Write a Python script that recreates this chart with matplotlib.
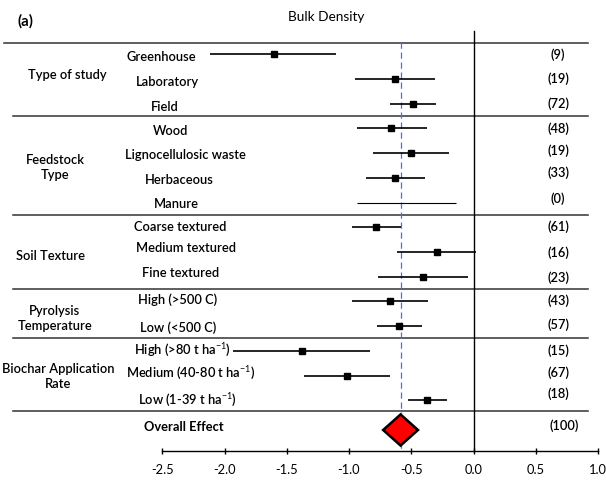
import matplotlib
matplotlib.use("Agg")
import matplotlib.pyplot as plt
import numpy as np

plt.rcParams['font.family'] = ['Lato', 'DejaVu Sans']
plt.rcParams['mathtext.fontset'] = 'custom'
plt.rcParams['mathtext.rm'] = 'Lato'
plt.rcParams['mathtext.it'] = 'Lato:italic'
plt.rcParams['mathtext.bf'] = 'Lato:bold'

# ---- data ----
labels = ["Greenhouse", "Laboratory", "Field",
          "Wood", "Lignocellulosic waste", "Herbaceous", "Manure",
          "Coarse textured", "Medium textured", "Fine textured",
          "High (>500 C)", "Low (<500 C)",
          "High (>80 t ha$^{-1}$)", "Medium (40-80 t ha$^{-1}$)", "Low (1-39 t ha$^{-1}$)"]
means = [-1.606, -0.634, -0.485,
         -0.659, -0.503, -0.627, np.nan,
         -0.782, -0.297, -0.407,
         -0.672, -0.597,
         -1.381, -1.015, -0.372]
ci_low = [-2.115, -0.956, -0.667,
          -0.937, -0.811, -0.867, -0.932,
          -0.980, -0.613, -0.769,
          -0.975, -0.777,
          -1.933, -1.363, -0.527]
ci_high = [-1.103, -0.313, -0.303,
           -0.375, -0.195, -0.386, -0.139,
           -0.586, 0.016, -0.045,
           -0.369, -0.412,
           -0.830, -0.667, -0.212]
counts = ["(9)", "(19)", "(72)", "(48)", "(19)", "(33)", "(0)",
          "(61)", "(16)", "(23)", "(43)", "(57)", "(15)", "(67)", "(18)"]
groups = ["Type of study", "Feedstock\nType", "Soil Texture",
          "Pyrolysis\nTemperature", "Biochar Application\nRate"]
group_sizes = [3, 4, 3, 2, 3]
overall_label = "Overall Effect"
overall_mean = -0.586
overall_ci = (-0.726, -0.446)
overall_count = "(100)"
xticks = [-2.5, -2.0, -1.5, -1.0, -0.5, 0.0, 0.5, 1.0]

# ---- layout (pixel positions of text in the figure) ----
label_x_px = [161.5, 167.5, 164.5, 170.5, 185, 179.5, 176,
              180, 186.5, 181, 177.5, 178.5, 182, 191, 187.5]
label_y_px = [56.7, 81.7, 106.7, 130.7, 155, 180, 204,
              226.7, 248.3, 273.3, 300, 327.3, 350, 373.3, 400]
count_y_px = [55, 79, 104, 129, 150.7, 173, 199, 226.7, 252.3, 277.7,
              301, 324.3, 351, 372.3, 394]
group_x_px = [67, 55, 51, 55, 58]
group_y_px = [75, 167.6, 256, 318.7, 376.3]

W, H = 606, 481
fig = plt.figure(figsize=(W / 100, H / 100), dpi=100)
px_left, px_right, px_bottom, px_top = 162.3, 598, 452, 20
ax = fig.add_axes([px_left / W, (H - px_bottom) / H,
                   (px_right - px_left) / W, (px_bottom - px_top) / H])
row0_px, row_step = 55.3, 24.71
def pix2row(p):
    return (p - row0_px) / row_step
def xpix(p):
    return -2.5 + (p - px_left) / ((px_right - px_left) / 3.5)
ax.set_xlim(-2.5, 1.0)
ax.set_ylim(pix2row(px_bottom), pix2row(px_top))

n = len(labels)
rows = np.arange(n)
overall_row = pix2row(431)

fs = 9.3
# error bars and markers
for i in range(n):
    lw = 0.8 if np.isnan(means[i]) else 1.2
    ax.plot([ci_low[i], ci_high[i]], [rows[i], rows[i]], color='black', lw=lw,
            solid_capstyle='butt', zorder=3)
ax.plot(means, rows, 's', color='black', ms=4.8, zorder=4)

# diamond
dh = 0.63
ax.fill([overall_ci[0], overall_mean, overall_ci[1], overall_mean],
        [overall_row, overall_row - dh, overall_row, overall_row + dh],
        facecolor='#ff0000', edgecolor='black', lw=1.8, zorder=5, joinstyle='miter')

# reference lines
ax.plot([0, 0], [pix2row(31.7), pix2row(px_bottom)], color='black', lw=1.0,
        clip_on=False, zorder=2)
ax.plot([overall_mean, overall_mean], [pix2row(42.7), pix2row(px_bottom)],
        color='#4f6bf0', lw=0.9, ls=(0, (5, 3)), clip_on=False, zorder=2)

# separators
bounds = np.cumsum([0] + group_sizes)
sep_rows = [pix2row(44)] + [b - 0.5 for b in bounds[1:-1]] + [pix2row(412)]
for j, r in enumerate(sep_rows):
    x0 = xpix(4) if j == 0 else xpix(13)
    ax.plot([x0, xpix(588)], [r, r], color='#333333', lw=1.1, clip_on=False, zorder=1)

# row labels
for i in range(n):
    ax.text(xpix(label_x_px[i]), pix2row(label_y_px[i]), labels[i], ha='center',
            va='center', fontsize=fs, fontweight='semibold', clip_on=False)
ax.text(xpix(184), pix2row(427.3), overall_label, ha='center', va='center', fontsize=fs,
        fontweight='bold', clip_on=False)

# group labels
for g, name in enumerate(groups):
    ax.text(xpix(group_x_px[g]), pix2row(group_y_px[g]), name, ha='center', va='center',
            fontsize=fs, fontweight='semibold', linespacing=1.3, clip_on=False)

# counts
for i in range(n):
    ax.text(xpix(558), pix2row(count_y_px[i]), counts[i], ha='center', va='center',
            fontsize=fs, fontweight='semibold', clip_on=False)
ax.text(xpix(564), pix2row(426), overall_count, ha='center', va='center',
        fontsize=fs, fontweight='semibold', clip_on=False)

# axes styling
for s in ['left', 'top', 'right']:
    ax.spines[s].set_visible(False)
ax.spines['bottom'].set_linewidth(1.0)
ax.set_yticks([])
ax.set_xticks(xticks)
ax.set_xticklabels([f"{t:.1f}" for t in xticks], fontsize=fs)
ax.tick_params(axis='x', direction='inout', length=5, width=1.0, pad=6)

# titles
fig.text(326 / W, 1 - 16.7 / H, "Bulk Density", ha='center', va='center', fontsize=fs + 0.5)
fig.text(17 / W, 1 - 21 / H, "(a)", ha='left', va='center', fontsize=fs + 1.5,
         fontweight='bold')

fig.savefig("out.png", dpi=100)
